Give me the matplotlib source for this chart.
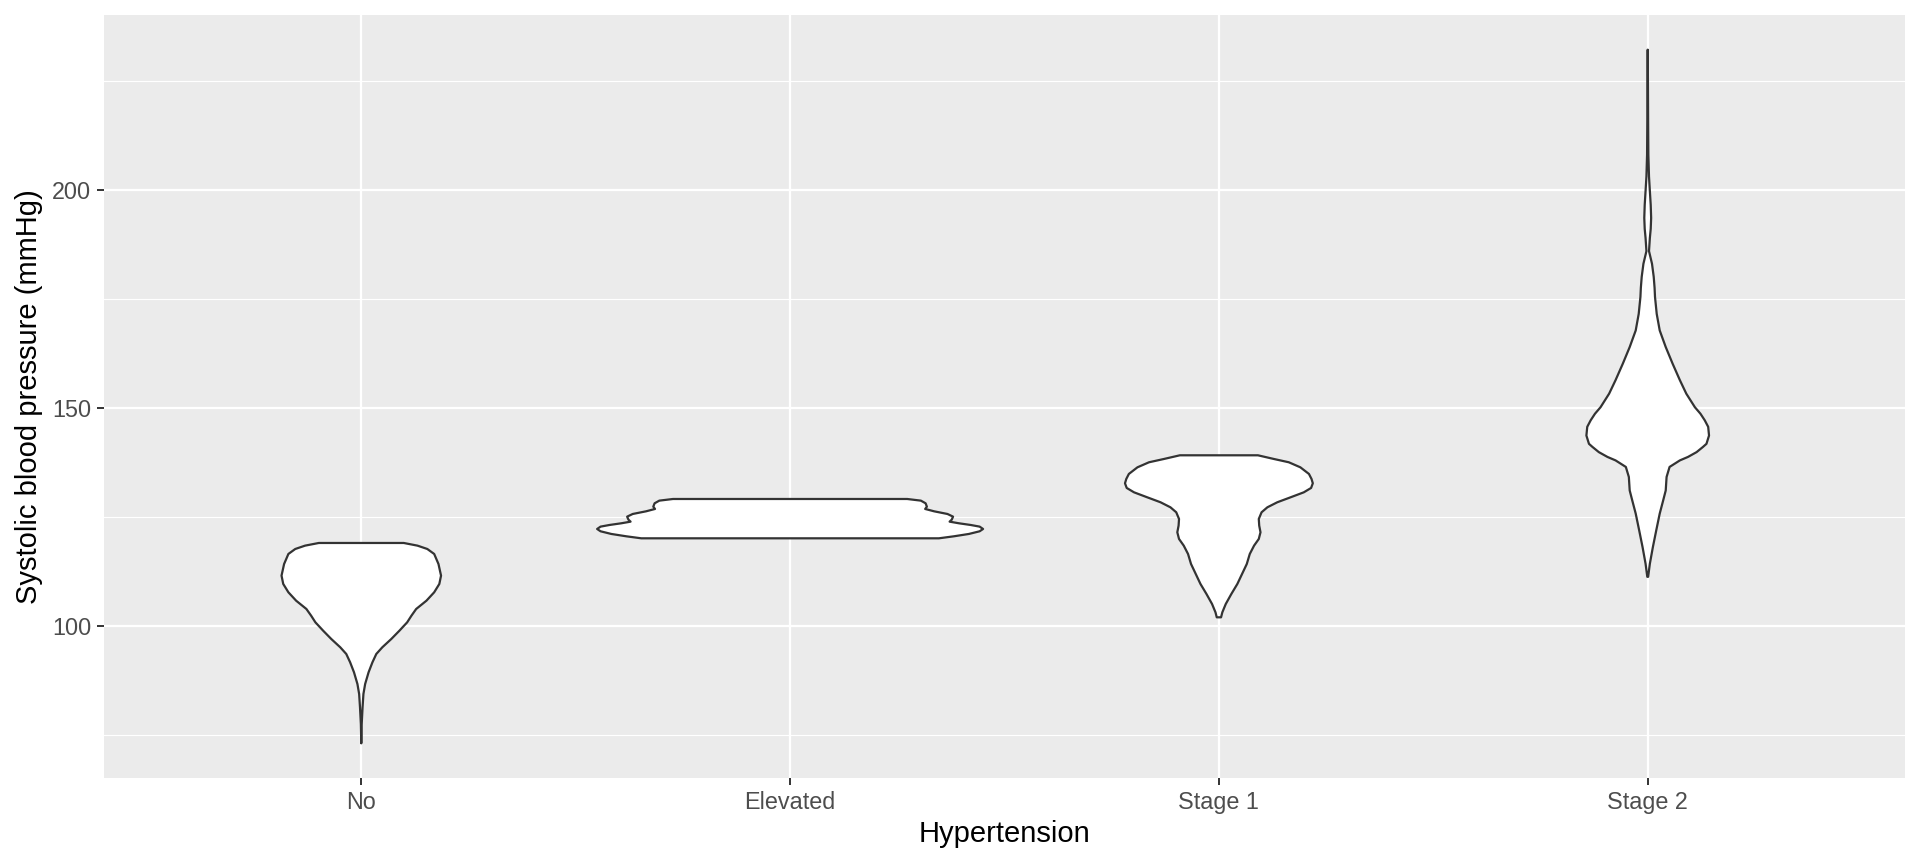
import matplotlib
matplotlib.use("Agg")
import matplotlib.pyplot as plt
import numpy as np

plt.rcParams['font.family'] = ['Liberation Sans', 'DejaVu Sans']

categories = ["No", "Elevated", "Stage 1", "Stage 2"]

# Violin outlines: systolic value (mmHg) and half-width (x units)
no_sbp = [118.96, 118.35, 117.58, 116.44, 114.14, 111.47, 109.56, 107.65, 105.73,
          103.82, 102.29, 100.76, 98.85, 96.94, 95.03, 93.50, 91.59, 89.30, 86.62,
          84.33, 81.27, 77.45, 73.01]
no_half_width = [0.099, 0.131, 0.154, 0.170, 0.180, 0.186, 0.182, 0.170, 0.152,
                 0.128, 0.117, 0.107, 0.089, 0.070, 0.049, 0.035, 0.026, 0.017, 0.009,
                 0.005, 0.003, 0.001, 0.0]

elevated_sbp = [129.05, 128.67, 128.06, 127.29, 126.76, 126.22, 125.61, 125.0, 124.31,
                123.85, 123.47, 123.09, 122.71, 122.17, 121.64, 121.03, 120.49, 120.03]
elevated_half_width = [0.273, 0.305, 0.316, 0.319, 0.315, 0.336, 0.367, 0.380, 0.377,
                       0.372, 0.394, 0.421, 0.442, 0.450, 0.442, 0.417, 0.382, 0.347]

stage1_sbp = [139.07, 138.23, 137.47, 136.31, 134.79, 133.64, 132.65, 131.58, 130.58,
              129.43, 128.29, 127.14, 126.0, 124.47, 122.94, 121.41, 119.88, 118.35,
              116.44, 114.14, 111.85, 109.56, 107.26, 104.97, 103.06, 101.91]
stage1_half_width = [0.091, 0.128, 0.163, 0.190, 0.210, 0.216, 0.219, 0.215, 0.198,
                     0.167, 0.136, 0.113, 0.0995, 0.093, 0.094, 0.097, 0.093, 0.082,
                     0.072, 0.065, 0.054, 0.043, 0.029, 0.016, 0.008, 0.005]

stage2_sbp = [232.1, 225.0, 215.0, 208.0, 203.0, 199.7, 196.5, 193.5, 191.0, 188.9,
              185.9, 183.0, 180.0, 177.5, 175.4, 171.5, 167.7, 163.9, 160.1, 156.3,
              153.2, 150.1, 148.6, 147.1, 145.6, 143.6, 141.7, 141.0, 139.8, 138.7,
              137.9, 136.4, 134.1, 131.0, 128.7, 125.7, 121.9, 118.0, 114.2, 111.2]
stage2_half_width = [0.0, 0.0005, 0.001, 0.0015, 0.003, 0.005, 0.007, 0.008, 0.007, 0.005,
                     0.003, 0.010, 0.014, 0.016, 0.017, 0.021, 0.028, 0.042, 0.058, 0.075,
                     0.090, 0.110, 0.123, 0.133, 0.141, 0.143, 0.137, 0.129, 0.114, 0.094,
                     0.075, 0.051, 0.044, 0.042, 0.036, 0.028, 0.020, 0.012, 0.005, 0.001]

y_major_ticks = [100, 150, 200]
y_minor_ticks = [75, 125, 175, 225]

violins = [(no_sbp, no_half_width), (elevated_sbp, elevated_half_width),
           (stage1_sbp, stage1_half_width), (stage2_sbp, stage2_half_width)]

W, H = 1920, 864
fig = plt.figure(figsize=(W / 100, H / 100), dpi=100)
left, right, top, bottom = 104, 1905, 15, 778
ax = fig.add_axes([left / W, 1 - bottom / H, (right - left) / W, (bottom - top) / H])
ax.set_facecolor('#EBEBEB')

for i, (ys, ws) in enumerate(violins):
    pos = i + 1
    ys = np.asarray(ys, dtype=float)
    ws = np.asarray(ws, dtype=float)
    xs = np.concatenate([pos - ws, (pos + ws)[::-1]])
    yy = np.concatenate([ys, ys[::-1]])
    ax.fill(xs, yy, facecolor='white', edgecolor='#333333', linewidth=1.6,
            joinstyle='round', zorder=3)

all_y = np.concatenate([np.asarray(v[0]) for v in violins])
lo, hi = all_y.min(), all_y.max()
pad = 0.05 * (hi - lo)
ax.set_ylim(lo - pad, hi + pad)
ax.set_xlim(0.4, len(categories) + 0.6)

ax.set_xticks(range(1, len(categories) + 1))
ax.set_xticklabels(categories)
ax.set_yticks(y_major_ticks)
ax.set_yticks(y_minor_ticks, minor=True)

ax.grid(which='major', color='white', linewidth=1.65, zorder=0)
ax.grid(which='minor', axis='y', color='white', linewidth=0.83, zorder=0)
ax.set_axisbelow(True)
for s in ax.spines.values():
    s.set_visible(False)

ax.tick_params(which='major', color='#333333', length=5, width=1.4,
               labelsize=16.8, labelcolor='#4D4D4D', pad=4.3)
ax.tick_params(which='minor', length=0)

ax.set_xlabel('Hypertension', fontsize=21, color='black', labelpad=4.5)
ax.set_ylabel('Systolic blood pressure (mmHg)', fontsize=21, color='black', labelpad=6)

fig.savefig('out.png', dpi=100, facecolor='white')
